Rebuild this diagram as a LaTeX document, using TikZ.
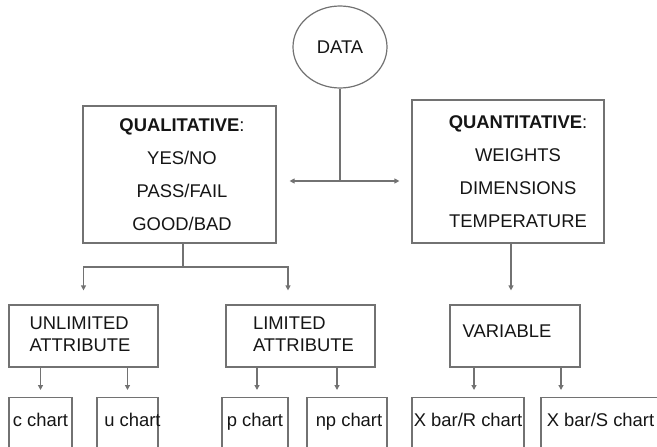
\documentclass[tikz,border=0pt]{standalone}
\usepackage{fontspec}
\setmainfont{Liberation Sans}
\usetikzlibrary{arrows.meta,shapes.geometric}
\newcommand\shiftx[2]{\makebox[0pt]{\hspace*{#1}\hspace*{#1}#2}}
\definecolor{lineg}{HTML}{727272}
\definecolor{txt}{HTML}{151515}
\begin{document}
\begin{tikzpicture}[x=1pt,y=-1pt,
  box/.style={draw=lineg, line width=1.2pt, rectangle, inner sep=0pt, text=txt},
  bigtext/.style={font=\fontsize{18.4}{33}\selectfont},
  midtext/.style={font=\fontsize{18.4}{22}\selectfont},
  chartbox/.style={box, anchor=north, text height=29pt, text depth=40pt, font=\fontsize{18.4}{22}\selectfont},
  conn/.style={draw=lineg, line width=1.2pt},
  arr/.style={conn, -{Triangle[length=5pt,width=5pt]}},
  darr/.style={conn, {Triangle[length=5pt,width=5pt]}-{Triangle[length=5pt,width=5pt]}},
]
\clip (0,0) rectangle (657,447);
\node[ellipse, draw=lineg, line width=1.2pt, minimum width=94pt, minimum height=82pt, inner sep=0pt,
      font=\fontsize{18.4}{22}\selectfont, text=txt] (data) at (340,47) {DATA};

\node[box,bigtext,minimum width=193pt,minimum height=137pt] (qual) at (179.5,174.5)
  {\shiftx{2.5pt}{\begin{tabular}{@{}c@{}}\textbf{QUALITATIVE}:\\YES/NO\\PASS/FAIL\\GOOD/BAD\end{tabular}}};
\node[box,bigtext,minimum width=192pt,minimum height=143pt] (quant) at (508,171.5)
  {\shiftx{10pt}{\begin{tabular}{@{}c@{}}\textbf{QUANTITATIVE}:\\WEIGHTS\\DIMENSIONS\\TEMPERATURE\end{tabular}}};

\node[box,midtext,minimum width=149pt,minimum height=62pt] (unl) at (83.5,336)
  {\shiftx{-3.5pt}{\begin{tabular}{@{}l@{}}UNLIMITED\\ATTRIBUTE\end{tabular}}};
\node[box,midtext,minimum width=149pt,minimum height=62pt] (lim) at (300.5,336)
  {\shiftx{3pt}{\begin{tabular}{@{}l@{}}LIMITED\\ATTRIBUTE\end{tabular}}};
\node[box,midtext,minimum width=130pt,minimum height=62pt,text depth=10pt] (var) at (515,336)
  {\shiftx{-8pt}{VARIABLE}};

\node[chartbox,minimum width=63pt] (c) at (40.5,397) {c chart};
\node[chartbox,minimum width=61pt] (u) at (127.5,397) {\shiftx{5pt}{u chart}};
\node[chartbox,minimum width=66pt] (p) at (255,397) {p chart};
\node[chartbox,minimum width=80pt] (np) at (347,397) {\shiftx{2pt}{np chart}};
\node[chartbox,minimum width=112pt] (xr) at (468,397) {X bar/R chart};
\node[chartbox,minimum width=119pt] (xs) at (600.5,397) {X bar/S chart};

% top connectors
\coordinate (j) at (340,181);
\draw[conn] (data) -- (j);
\draw[darr, shorten <=13pt, shorten >=12pt] (qual.east |- j) -- (quant.west |- j);

\coordinate (qj) at (183,267);
\draw[conn] (qual.south -| qj) -- (qj);
\draw[arr, shorten >=14pt] (qj) -| (unl.north);
\path ([xshift=-12.5pt]lim.north) coordinate (limin);
\draw[arr, shorten >=14pt] (qj) -| (limin);
\path ([xshift=3pt]quant.south) coordinate (quantout);
\draw[arr, shorten >=14pt] (quantout) -- (quantout |- var.north);

% bottom connectors
\draw[arr, shorten >=7pt] (unl.south -| c.north) -- (c.north);
\draw[arr, shorten >=7pt] (unl.south -| u.north) -- (u.north);
\path ([xshift=2pt]p.north) coordinate (pin);
\draw[arr, shorten >=7pt] (lim.south -| pin) -- (pin);
\path ([xshift=-10pt]np.north) coordinate (npin);
\draw[arr, shorten >=7pt] (lim.south -| npin) -- (npin);
\path ([xshift=6pt]xr.north) coordinate (xrin);
\draw[arr, shorten >=7pt] (var.south -| xrin) -- (xrin);
\path ([xshift=-39.5pt]xs.north) coordinate (xsin);
\draw[arr, shorten >=7pt] (var.south -| xsin) -- (xsin);
\end{tikzpicture}
\end{document}
